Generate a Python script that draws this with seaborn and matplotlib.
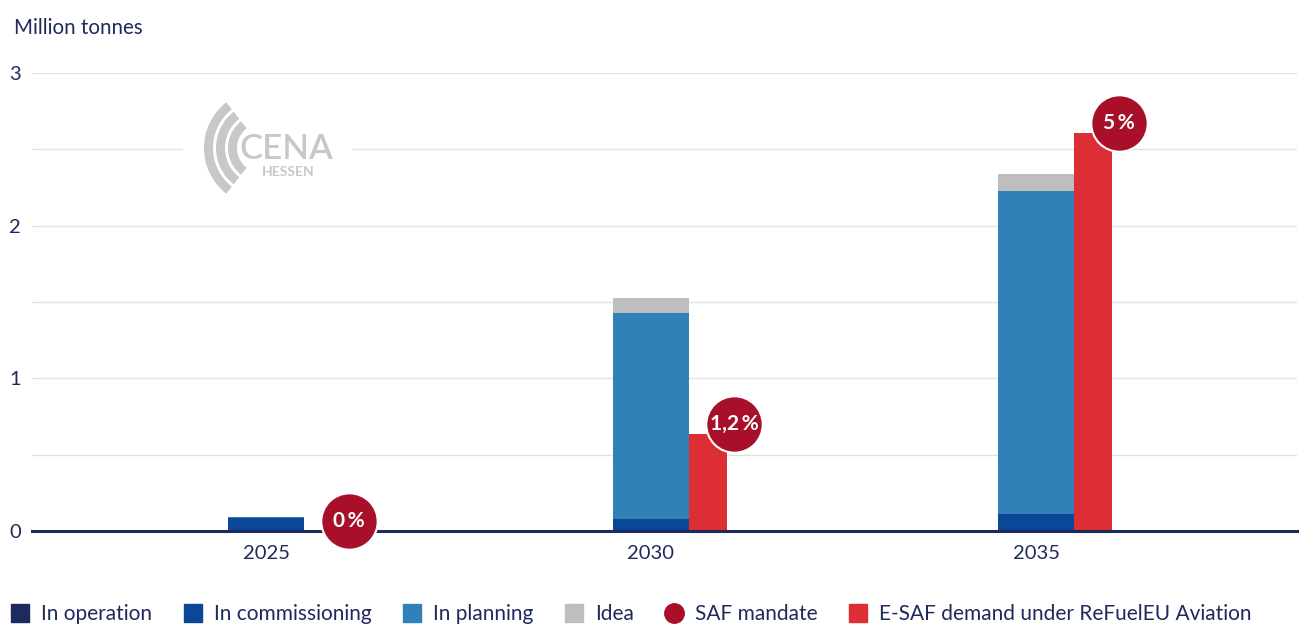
import numpy as np
import pandas as pd
import matplotlib
matplotlib.use("Agg")
import matplotlib.pyplot as plt
import matplotlib.transforms as mtransforms
from matplotlib.lines import Line2D
from matplotlib.patches import Wedge, Rectangle
import seaborn as sns

# ---- data ----
years = ["2025", "2030", "2035"]
in_operation = [0.005, 0.005, 0.005]
in_commissioning = [0.08, 0.075, 0.105]
in_planning = [0.005, 1.345, 2.12]
idea = [0.0, 0.10, 0.11]
esaf_demand = [0.0, 0.635, 2.61]
saf_mandate_labels = ["0 %", "1,2 %", "5 %"]

NAVY = "#1f2a5c"
C_OP = "#1c2a5e"
C_COM = "#0b4797"
C_PLAN = "#3180b8"
C_IDEA = "#bebebe"
C_SAF = "#a8102a"
C_ESAF = "#dc2e34"

sns.set_theme(style="white")
plt.rcParams["font.family"] = ["Lato", "DejaVu Sans"]

fig = plt.figure(figsize=(13.14, 6.43), dpi=100)
ax = fig.add_axes([32 / 1314, 1 - 531 / 643, (1297 - 32) / 1314, (531 - 73) / 643])

df = pd.DataFrame({
    "year": years,
    "op": in_operation,
    "com": in_commissioning,
    "plan": in_planning,
    "idea": idea,
})
df["c_op"] = df["op"]
df["c_com"] = df["c_op"] + df["com"]
df["c_plan"] = df["c_com"] + df["plan"]
df["c_idea"] = df["c_plan"] + df["idea"]

W = 76 / 385
for col, colr in [("c_idea", C_IDEA), ("c_plan", C_PLAN), ("c_com", C_COM), ("c_op", C_OP)]:
    sns.barplot(data=df, x="year", y=col, color=colr, width=W, ax=ax,
                saturation=1, linewidth=0, zorder=3)

xpos = np.arange(len(years))
ax.bar(xpos + W * 0.75, esaf_demand, width=W / 2, color=C_ESAF, linewidth=0, zorder=3)

# SAF mandate circles at top-right corner of the E-SAF bars
for i, (v, lab) in enumerate(zip(esaf_demand, saf_mandate_labels)):
    x = xpos[i] + W
    tr = mtransforms.offset_copy(ax.transData, fig=fig, x=7 * 0.72, y=10 * 0.72, units="points")
    ax.scatter([x], [v], s=1650, color=C_SAF, edgecolor="white", linewidth=1.5,
               transform=tr, zorder=6, clip_on=False)
    ax.text(x, v, lab.replace(" ", "\u2009"), transform=tr, color="white", fontsize=15,
            fontweight="bold", ha="center", va="center", zorder=7, clip_on=False)

ax.set_xlim((32 - 266) / 385, 2 + (1297 - 1036) / 385)
ax.set_ylim(0, 3)
ax.set_yticks([0, 0.5, 1, 1.5, 2, 2.5, 3])
ax.set_yticklabels(["0", "", "1", "", "2", "", "3"])
ax.set_xlabel("")
ax.set_ylabel("")
ax.grid(axis="y", color="#e2e2e2", linewidth=1, zorder=0)
ax.grid(axis="x", visible=False)
for s in ["top", "right", "left"]:
    ax.spines[s].set_visible(False)
ax.spines["bottom"].set_color(NAVY)
ax.spines["bottom"].set_linewidth(2.2)
ax.spines["bottom"].set_zorder(5)
ax.tick_params(axis="y", length=0, pad=8, labelsize=14.5, labelcolor=NAVY)
ax.tick_params(axis="x", length=0, pad=10, labelsize=14.5, labelcolor=NAVY)
for lbl in ax.get_yticklabels():
    lbl.set_horizontalalignment("right")

fig.text(14 / 1314, 1 - 28 / 643, "Million tonnes", fontsize=14.8, color=NAVY,
         ha="left", va="center")

# ---- watermark logo ----
bg = Rectangle((183 / 1314, 1 - 188 / 643), (352 - 183) / 1314, 80 / 643,
               facecolor="white", edgecolor="none", zorder=2)
ax.add_artist(bg)
bg.set_transform(fig.transFigure)
logo_c = "#c8c8c8"
tpx = mtransforms.IdentityTransform()
for r in [58, 46, 34]:
    w = Wedge((262, 643 - 148), r, 128, 232, width=9, transform=tpx,
              facecolor=logo_c, edgecolor="none", zorder=3)
    fig.patches.append(w)
fig.text(286 / 1314, 1 - 149 / 643, "CENA", fontsize=25, color=logo_c,
         ha="center", va="center", fontweight="semibold")
fig.text(288 / 1314, 1 - 172 / 643, "HESSEN", fontsize=10, color=logo_c,
         ha="center", va="center", fontweight="bold")

# ---- legend ----
handles = [
    Line2D([], [], marker="s", linestyle="none", markersize=13, color=C_OP),
    Line2D([], [], marker="s", linestyle="none", markersize=13, color=C_COM),
    Line2D([], [], marker="s", linestyle="none", markersize=13, color=C_PLAN),
    Line2D([], [], marker="s", linestyle="none", markersize=13, color=C_IDEA),
    Line2D([], [], marker="o", linestyle="none", markersize=14, color=C_SAF),
    Line2D([], [], marker="s", linestyle="none", markersize=13, color=C_ESAF),
]
labels = ["In operation", "In commissioning", "In planning", "Idea", "SAF mandate",
          "E-SAF demand under ReFuelEU Aviation"]
leg = fig.legend(handles, labels, loc="center left", bbox_to_anchor=(11 / 1314, 1 - 614 / 643),
                 ncol=6, frameon=False, fontsize=15.0, handlelength=0.9, handletextpad=0.55,
                 columnspacing=1.5, borderaxespad=0, borderpad=0)
for t in leg.get_texts():
    t.set_color(NAVY)

fig.savefig("out.png", dpi=100)
